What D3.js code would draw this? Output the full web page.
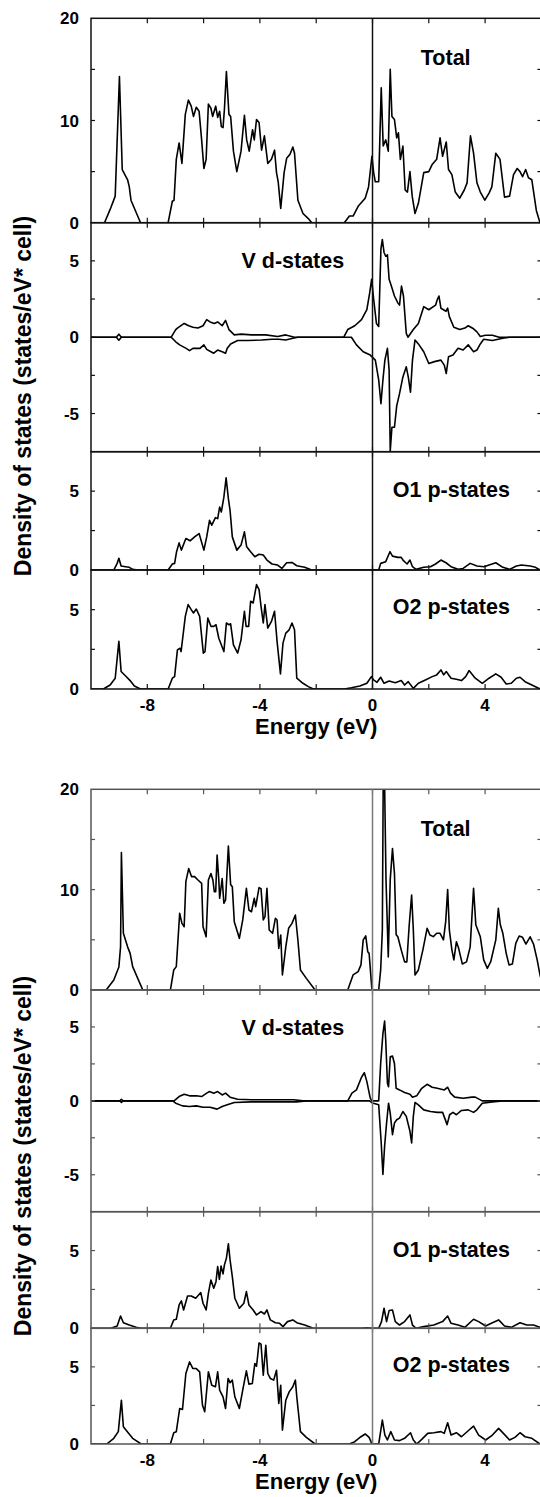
<!DOCTYPE html>
<html>
<head>
<meta charset="utf-8">
<script src="https://cdn.jsdelivr.net/npm/d3@7"></script>
<style>
  body { margin: 0; background: #fff; }
  svg { display: block; }
  text { font-family: "Liberation Sans", Arial, sans-serif; fill: #000; font-weight: bold; }
</style>
</head>
<body>
<svg id="chart" width="540" height="1497"></svg>
<script>
// energy axis
const energyLabels = [-8, -4, 0, 4]
const energyMinor = [-8, -6, -4, -2, 0, 2, 4]
const panelNames = ["Total", "V d-states", "O1 p-states", "O2 p-states"]
const panelDomains = [[0, 20], [-7.5, 7.5], [0, 7.5], [0, 7.5]]
const yLabels = [[0, 10, 20], [-5, 0, 5], [0, 5], [0, 5]]
const yMinor = [[5, 10, 15], [-5, -2.5, 0, 2.5, 5], [2.5, 5], [2.5, 5]]

// upper figure, [energy, DOS]
const total1 = [[-10,0],[-9.52,0],[-9.32,1.3],[-9.14,2.6],[-8.99,14.3],[-8.89,5.2],[-8.7,4.2],[-8.64,3.5],[-8.58,2.2],[-8.24,0],
  [-7.26,0],[-7.11,2.1],[-7.05,2.2],[-6.97,6.2],[-6.87,7.8],[-6.77,5.8],[-6.65,10.6],[-6.54,12.0],[-6.44,11.4],[-6.36,10.4],[-6.26,11.3],[-6.16,10.9],[-6.07,8.1],[-5.99,5.3],[-5.91,6.2],[-5.83,11.6],[-5.74,11.2],[-5.68,10.4],[-5.57,11.4],[-5.5,10.3],[-5.43,10.9],[-5.37,9.4],[-5.31,9.3],[-5.26,11.1],[-5.19,14.8],[-5.1,10.6],[-5.04,10.4],[-4.94,7.0],[-4.82,5.0],[-4.67,7.0],[-4.55,10.5],[-4.47,8.1],[-4.38,7.0],[-4.26,9.1],[-4.2,8.1],[-4.12,10.1],[-4.03,9.8],[-3.94,7.1],[-3.84,8.5],[-3.72,5.8],[-3.59,6.2],[-3.48,7.1],[-3.41,4.9],[-3.35,4.0],[-3.26,1.4],[-3.14,4.9],[-3.05,6.3],[-2.93,6.7],[-2.83,7.4],[-2.77,6.8],[-2.65,2.2],[-2.47,0.9],[-2.28,0.4],[-2.16,0],
  [-1.0,0],[-0.82,0.65],[-0.69,0.65],[-0.51,1.6],[-0.26,2.4],[-0.14,3.5],[-0.02,6.5],[0.04,4.9],[0.1,4.0],[0.22,4.0],[0.31,13.2],[0.38,7.5],[0.47,8.1],[0.56,7.0],[0.63,15.0],[0.69,10.4],[0.78,10.1],[0.86,8.3],[0.92,8.8],[0.99,6.2],[1.08,7.5],[1.16,3.2],[1.24,3.0],[1.33,5.0],[1.41,2.6],[1.51,0.9],[1.63,1.9],[1.82,4.9],[2.0,5.0],[2.12,5.7],[2.28,6.2],[2.4,8.3],[2.49,6.5],[2.62,7.9],[2.7,5.2],[2.82,4.7],[2.94,3.0],[3.1,2.4],[3.26,3.2],[3.36,3.9],[3.48,8.5],[3.59,6.8],[3.71,3.9],[3.83,3.0],[3.99,2.2],[4.14,2.9],[4.24,3.5],[4.38,6.8],[4.53,6.2],[4.69,2.5],[4.87,2.6],[5.01,4.7],[5.14,5.3],[5.24,5.0],[5.33,4.5],[5.44,5.2],[5.54,4.4],[5.66,4.2],[5.82,1.2],[5.95,0],[6,0]]

const vUp1 = [[-10,0],[-9.1,0],[-9.01,0.2],[-8.92,0],[-7.15,0],[-6.99,0.5],[-6.93,0.6],[-6.69,0.9],[-6.53,0.75],[-6.38,0.65],[-6.2,0.6],[-6.02,0.75],[-5.89,1.15],[-5.77,1.0],[-5.62,0.9],[-5.5,1.0],[-5.34,0.75],[-5.22,1.1],[-5.1,0.5],[-4.91,0.15],[-4.67,0.2],[-4.3,0.15],[-3.8,0.15],[-3.37,0.05],[-3.08,0.15],[-2.77,0],
  [-1.02,0],[-0.88,0.5],[-0.63,0.75],[-0.39,1.15],[-0.2,1.8],[-0.1,2.9],[-0.03,3.8],[0.04,2.5],[0.14,0.9],[0.22,0.7],[0.3,5.8],[0.35,6.4],[0.41,5.55],[0.47,5.3],[0.53,5.4],[0.59,3.8],[0.67,3.35],[0.78,2.7],[0.9,2.25],[0.96,2.1],[1.03,3.35],[1.1,2.7],[1.2,0.25],[1.26,0],[1.45,0.5],[1.63,0.9],[1.82,2.0],[2.0,1.8],[2.24,2.1],[2.3,2.45],[2.36,2.7],[2.43,1.9],[2.61,1.7],[2.67,1.9],[2.73,1.35],[2.89,0.65],[3.1,0.5],[3.28,0.6],[3.4,0.75],[3.59,0.55],[3.71,0.35],[3.83,0.05],[4.01,0.13],[4.26,0.13],[4.5,0],[6,0]]

const vDn1 = [[-10,0],[-9.1,0],[-9.01,-0.2],[-8.92,0],[-7.15,0],[-6.99,-0.3],[-6.85,-0.5],[-6.62,-0.73],[-6.5,-0.88],[-6.38,-0.73],[-6.13,-0.73],[-5.99,-0.5],[-5.89,-0.8],[-5.74,-0.95],[-5.64,-1.05],[-5.5,-0.84],[-5.34,-0.95],[-5.22,-1.05],[-5.16,-0.73],[-5.04,-0.44],[-4.79,-0.22],[-4.42,-0.22],[-3.94,-0.18],[-3.57,-0.13],[-3.33,-0.13],[-3.08,-0.18],[-2.83,-0.07],[-2.65,0],
  [-0.75,0],[-0.57,-0.5],[-0.33,-0.95],[-0.08,-1.17],[0.1,-1.5],[0.22,-2.8],[0.3,-4.36],[0.37,-2.8],[0.44,-1.5],[0.53,-0.73],[0.59,-2.16],[0.63,-7.45],[0.69,-5.9],[0.78,-5.9],[0.86,-4.5],[0.96,-3.7],[1.08,-2.6],[1.2,-1.94],[1.27,-2.6],[1.35,-3.6],[1.42,-1.5],[1.51,-0.18],[1.63,-0.44],[1.82,-0.95],[2.0,-1.72],[2.2,-1.6],[2.43,-1.5],[2.55,-1.83],[2.62,-2.38],[2.7,-1.28],[2.86,-1.17],[3.04,-0.73],[3.22,-0.84],[3.4,-0.5],[3.59,-0.95],[3.71,-0.84],[3.83,-0.44],[3.95,-0.13],[4.26,-0.22],[4.63,-0.07],[4.87,0],[6,0]]

const o1p1 = [[-10,0],[-9.19,0],[-9.07,0.42],[-9.01,0.74],[-8.93,0.25],[-8.77,0.21],[-8.64,0.17],[-8.52,0.04],[-8.34,0],[-7.26,0],[-7.11,0.38],[-7.03,0.42],[-6.96,1.16],[-6.87,1.72],[-6.79,1.26],[-6.63,2.0],[-6.48,1.85],[-6.32,2.1],[-6.16,2.31],[-5.99,1.26],[-5.89,2.1],[-5.79,3.15],[-5.71,2.84],[-5.58,3.32],[-5.5,3.26],[-5.43,3.99],[-5.37,3.68],[-5.28,4.62],[-5.2,5.84],[-5.12,4.52],[-5.06,3.78],[-4.98,2.1],[-4.82,1.26],[-4.67,1.58],[-4.55,2.42],[-4.47,1.47],[-4.33,1.16],[-4.18,0.84],[-4.03,1.0],[-3.88,0.95],[-3.75,0.63],[-3.57,0.38],[-3.38,0.32],[-3.22,0.1],[-3.05,0.46],[-2.86,0.48],[-2.69,0.27],[-2.41,0.17],[-2.16,0],
  [0.22,0],[0.29,0.42],[0.47,0.53],[0.62,1.16],[0.71,0.88],[0.9,0.8],[1.02,0.8],[1.1,0.59],[1.23,0.38],[1.33,0.63],[1.42,0.21],[1.55,0.04],[1.82,0.17],[2.06,0.21],[2.24,0.38],[2.43,0.63],[2.61,0.46],[2.79,0.21],[3.04,0.04],[3.22,0.1],[3.47,0.42],[3.71,0.25],[3.96,0.21],[4.14,0.32],[4.38,0.46],[4.63,0.17],[4.87,0.04],[5.11,0.25],[5.29,0.32],[5.6,0.25],[5.79,0.17],[5.95,0],[6,0]]

const o2p1 = [[-10,0],[-9.56,0],[-9.32,0.25],[-9.14,0.68],[-9.01,3.0],[-8.93,1.1],[-8.77,0.82],[-8.61,0.53],[-8.46,0.19],[-8.24,0],[-7.26,0],[-7.11,0.68],[-7.03,0.78],[-6.93,2.47],[-6.84,2.57],[-6.8,2.36],[-6.65,4.58],[-6.55,5.32],[-6.44,5.0],[-6.36,4.79],[-6.26,5.04],[-6.14,4.58],[-6.01,2.26],[-5.95,2.36],[-5.85,4.47],[-5.74,3.95],[-5.64,3.95],[-5.56,4.05],[-5.46,3.2],[-5.28,2.36],[-5.19,4.16],[-5.1,4.05],[-5.04,4.11],[-4.94,2.78],[-4.79,2.26],[-4.67,3.1],[-4.55,4.9],[-4.49,3.95],[-4.4,3.95],[-4.33,5.53],[-4.24,5.42],[-4.12,6.58],[-4.03,6.27],[-3.96,5.21],[-3.88,4.16],[-3.82,5.32],[-3.72,3.84],[-3.59,4.26],[-3.48,4.9],[-3.39,3.0],[-3.27,0.95],[-3.18,2.89],[-3.08,3.52],[-2.96,3.73],[-2.86,4.16],[-2.77,3.73],[-2.69,0.68],[-2.47,0.36],[-2.28,0.15],[-2.1,0],
  [-1.0,0],[-0.75,0.08],[-0.45,0.19],[-0.2,0.36],[-0.04,0.78],[0.04,0.57],[0.16,0.42],[0.29,0.74],[0.41,0.36],[0.59,0.5],[0.81,0.4],[1.02,0.53],[1.14,0.25],[1.27,0.46],[1.45,0.04],[1.63,0.36],[1.88,0.57],[2.12,0.78],[2.28,0.89],[2.43,1.2],[2.53,0.89],[2.62,1.1],[2.79,0.68],[2.98,0.61],[3.16,0.53],[3.31,0.78],[3.43,1.16],[3.65,0.68],[3.9,0.36],[4.14,0.68],[4.38,0.95],[4.57,0.74],[4.75,0.32],[4.93,0.36],[5.11,0.68],[5.24,0.74],[5.42,0.46],[5.66,0.25],[5.95,0],[6,0]]

// lower figure
const total2 = [[-10,0],[-9.46,0],[-9.19,1.0],[-9.01,2.3],[-8.95,4.3],[-8.92,13.7],[-8.85,5.65],[-8.7,4.3],[-8.61,3.65],[-8.52,2.33],[-8.16,0],[-7.18,0],[-7.06,2.0],[-6.97,2.33],[-6.85,7.64],[-6.77,6.64],[-6.69,6.3],[-6.63,10.8],[-6.53,12.1],[-6.43,11.3],[-6.32,11.3],[-6.2,10.96],[-6.07,10.63],[-6.02,6.3],[-5.91,5.3],[-5.83,10.96],[-5.74,11.6],[-5.67,10.96],[-5.62,9.8],[-5.57,9.8],[-5.52,13.45],[-5.46,10.96],[-5.43,9.14],[-5.34,11.1],[-5.28,8.64],[-5.22,8.97],[-5.12,14.35],[-5.04,10.5],[-4.98,10.3],[-4.91,6.81],[-4.73,5.15],[-4.61,6.98],[-4.48,10.13],[-4.39,7.97],[-4.3,7.8],[-4.2,9.14],[-4.15,8.3],[-4.03,10.2],[-3.96,10.1],[-3.88,6.98],[-3.82,7.3],[-3.75,10.13],[-3.67,5.98],[-3.55,5.65],[-3.45,7.14],[-3.39,6.98],[-3.33,4.15],[-3.26,5.48],[-3.2,1.5],[-3.08,4.3],[-2.98,6.15],[-2.86,6.64],[-2.74,7.47],[-2.65,4.98],[-2.56,2.0],[-2.35,1.16],[-2.04,0],
  [-0.88,0],[-0.69,1.5],[-0.51,1.83],[-0.41,2.5],[-0.33,5.0],[-0.24,5.4],[-0.17,3.82],[-0.12,3.65],[-0.02,0],[0.22,0],[0.29,2.0],[0.35,6.0],[0.38,20.5],[0.43,20.5],[0.48,10.96],[0.56,3.3],[0.63,11.0],[0.71,14.1],[0.78,11.6],[0.84,5.5],[0.9,5.3],[1.02,4.0],[1.14,2.8],[1.22,2.8],[1.3,6.3],[1.39,9.47],[1.45,6.0],[1.51,1.5],[1.63,2.0],[1.79,4.0],[1.94,6.15],[2.04,5.48],[2.16,5.32],[2.28,5.65],[2.4,5.65],[2.52,5.0],[2.6,6.81],[2.67,10.0],[2.73,6.0],[2.82,4.0],[2.89,3.0],[2.98,4.8],[3.06,4.15],[3.19,2.6],[3.34,2.8],[3.47,4.3],[3.59,10.13],[3.67,6.5],[3.83,5.3],[3.95,3.0],[4.08,2.16],[4.2,2.82],[4.38,5.0],[4.47,8.14],[4.54,6.5],[4.63,5.65],[4.75,3.65],[4.85,2.5],[4.97,2.6],[5.09,4.65],[5.21,5.38],[5.33,5.25],[5.45,4.58],[5.6,5.3],[5.72,4.58],[5.85,3.0],[5.95,1.5],[6,1.0]]

const vUp2 = [[-10,0],[-8.98,0],[-8.92,0.1],[-8.86,0],[-7.05,0],[-6.87,0.29],[-6.69,0.45],[-6.5,0.34],[-6.26,0.34],[-6.07,0.29],[-5.89,0.52],[-5.79,0.63],[-5.64,0.52],[-5.5,0.63],[-5.34,0.4],[-5.22,0.52],[-5.06,0.25],[-4.79,0.11],[-4.3,0.07],[-2.8,0.07],[-2.47,0],
  [-0.88,0],[-0.73,0.52],[-0.57,0.74],[-0.39,1.6],[-0.29,1.9],[-0.2,1.3],[-0.08,0.18],[-0.02,0],[0.22,0],[0.29,2.53],[0.37,4.55],[0.43,5.4],[0.47,4.1],[0.53,1.19],[0.57,0.96],[0.63,2.98],[0.71,3.03],[0.78,2.53],[0.84,0.85],[0.96,0.74],[1.14,0.56],[1.33,0.45],[1.42,0.25],[1.57,0.34],[1.75,0.85],[1.94,1.12],[2.12,0.92],[2.3,0.85],[2.55,0.74],[2.67,0.92],[2.77,0.52],[2.92,0.25],[3.22,0.18],[3.53,0.25],[3.65,0.25],[3.9,0],[6,0]]

const vDn2 = [[-10,0],[-8.98,0],[-8.92,-0.1],[-8.86,0],[-7.1,0],[-6.99,-0.16],[-6.75,-0.34],[-6.5,-0.38],[-6.26,-0.34],[-6.02,-0.43],[-5.77,-0.43],[-5.52,-0.56],[-5.34,-0.38],[-5.16,-0.27],[-4.91,-0.11],[-4.3,-0.07],[-2.7,-0.07],[-2.35,0],
  [-0.1,0],[0.0,-0.15],[0.22,-0.27],[0.31,-2.85],[0.37,-4.98],[0.43,-3.07],[0.5,-1.5],[0.57,-0.16],[0.63,-0.83],[0.71,-2.29],[0.78,-1.5],[0.86,-1.28],[0.96,-1.17],[1.08,-0.72],[1.2,-1.05],[1.33,-2.06],[1.39,-2.85],[1.45,-1.05],[1.51,-0.11],[1.63,-0.27],[1.82,-0.61],[2.06,-0.72],[2.3,-0.78],[2.49,-0.78],[2.65,-1.61],[2.74,-0.94],[2.86,-0.78],[2.98,-0.94],[3.16,-0.65],[3.4,-0.61],[3.59,-0.78],[3.71,-0.61],[3.9,-0.16],[4.26,-0.07],[4.63,0],[6,0]]

const o1p2 = [[-10,0],[-9.29,0],[-9.07,0.15],[-8.95,0.79],[-8.85,0.36],[-8.64,0.21],[-8.4,0.06],[-8.22,0],[-7.18,0],[-7.06,0.54],[-6.97,0.58],[-6.87,1.5],[-6.79,1.76],[-6.71,1.18],[-6.57,2.08],[-6.44,2.08],[-6.28,1.93],[-6.1,2.3],[-6.02,1.61],[-5.91,1.18],[-5.83,2.25],[-5.74,3.11],[-5.64,2.58],[-5.56,3.0],[-5.5,3.97],[-5.44,3.15],[-5.38,4.0],[-5.31,3.5],[-5.26,4.08],[-5.19,4.5],[-5.12,5.43],[-5.06,4.4],[-4.98,3.33],[-4.89,1.93],[-4.73,1.29],[-4.57,1.61],[-4.48,2.36],[-4.39,1.5],[-4.24,1.18],[-4.12,0.86],[-3.96,1.07],[-3.84,0.92],[-3.75,1.18],[-3.63,0.54],[-3.45,0.36],[-3.3,0.32],[-3.18,0.11],[-3.02,0.43],[-2.83,0.54],[-2.69,0.36],[-2.41,0.21],[-2.1,0],
  [-0.4,0],[-0.2,0.04],[0,0],[0.22,0],[0.32,0.43],[0.41,1.29],[0.5,0.43],[0.59,1.14],[0.71,1.18],[0.81,0.43],[0.96,0.21],[1.14,0.43],[1.33,0.86],[1.42,0.21],[1.55,0],[1.82,0.11],[2.18,0.21],[2.49,0.43],[2.67,0.79],[2.79,0.32],[3.04,0.21],[3.28,0.06],[3.59,0.58],[3.77,0.43],[4.02,0.15],[4.26,0.36],[4.48,0.54],[4.69,0.15],[4.93,0.06],[5.24,0.36],[5.48,0.21],[5.72,0.21],[5.95,0.06],[6,0]]

const o2p2 = [[-10,0],[-9.44,0],[-9.19,0.37],[-9.03,0.8],[-8.92,2.84],[-8.85,1.12],[-8.68,0.73],[-8.52,0.37],[-8.22,0],[-7.18,0],[-7.06,0.73],[-6.97,0.8],[-6.85,2.3],[-6.75,2.24],[-6.63,4.57],[-6.5,5.32],[-6.38,4.89],[-6.26,4.89],[-6.14,4.68],[-6.04,2.52],[-5.96,2.09],[-5.83,4.68],[-5.71,3.81],[-5.58,3.71],[-5.5,4.68],[-5.43,3.49],[-5.31,3.06],[-5.22,2.3],[-5.13,4.25],[-5.06,3.97],[-4.98,4.14],[-4.89,3.06],[-4.73,2.3],[-4.61,3.49],[-4.48,4.74],[-4.39,3.88],[-4.27,3.92],[-4.18,5.22],[-4.12,5.04],[-4.03,6.55],[-3.96,6.47],[-3.88,4.46],[-3.79,6.4],[-3.72,4.57],[-3.63,4.25],[-3.51,4.14],[-3.41,4.78],[-3.33,2.63],[-3.26,3.81],[-3.2,0.9],[-3.08,2.84],[-2.96,3.38],[-2.83,3.71],[-2.74,4.14],[-2.69,3.06],[-2.56,0.8],[-2.35,0.43],[-2.04,0],
  [-0.82,0],[-0.63,0.15],[-0.41,0.47],[-0.26,0.65],[-0.12,0.43],[-0.02,0],[0.22,0],[0.35,1.55],[0.44,0.58],[0.53,0.26],[0.65,0.8],[0.78,0.26],[0.96,0.22],[1.14,0.37],[1.35,0.73],[1.45,0.26],[1.57,0],[1.75,0.3],[1.96,0.69],[2.18,0.73],[2.43,0.8],[2.55,0.69],[2.67,1.38],[2.79,0.58],[2.98,0.73],[3.16,0.47],[3.4,0.86],[3.59,1.16],[3.77,0.58],[4.02,0.26],[4.26,0.58],[4.48,1.01],[4.65,0.69],[4.87,0.26],[5.06,0.43],[5.24,0.73],[5.42,0.47],[5.66,0.37],[5.95,0],[6,0]]

// layout of the two stacked figures
const figures = [
  { edges: [18.3, 222.7, 451.7, 570, 689], frame: "#111", fermi: "#111",
    series: [[total1], [vUp1, vDn1], [o1p1], [o2p1]], titleY: 396 },
  { edges: [789.3, 990, 1211.7, 1328.3, 1444], frame: "#555", fermi: "#7a7a7a",
    series: [[total2], [vUp2, vDn2], [o1p2], [o2p2]], titleY: 1156 }
]
const labelEnergy = [2.6, -2.83, 2.8, 2.8]
const labelDrop = [47, 45, 45, 44]

const svg = d3.select("#chart")
const x = d3.scaleLinear().domain([-10, 6]).range([91, 541.4])
const tickLen = 5

figures.forEach((fig, fi) => {
  const g = svg.append("g")

  fig.series.forEach((lines, pi) => {
    const top = fig.edges[pi]
    const bottom = fig.edges[pi + 1]
    const y = d3.scaleLinear().domain(panelDomains[pi]).range([bottom, top])
    const panel = g.append("g")

    const clipId = `clip-${fi}-${pi}`
    svg.append("clipPath").attr("id", clipId)
      .append("rect")
      .attr("x", x(-10)).attr("y", top)
      .attr("width", x(6) - x(-10)).attr("height", bottom - top)

    const line = d3.line().x(d => x(d[0])).y(d => y(d[1]))
    lines.forEach(data => {
      panel.append("path")
        .datum(data)
        .attr("clip-path", `url(#${clipId})`)
        .attr("d", line)
        .attr("fill", "none")
        .attr("stroke", "#000")
        .attr("stroke-width", 1.6)
        .attr("stroke-linejoin", "round")
    })

    // energy ticks on top and bottom, pointing in
    energyMinor.forEach(e => {
      panel.append("line")
        .attr("x1", x(e)).attr("x2", x(e))
        .attr("y1", top).attr("y2", top + tickLen)
        .attr("stroke", fig.frame).attr("stroke-width", 1.2)
      panel.append("line")
        .attr("x1", x(e)).attr("x2", x(e))
        .attr("y1", bottom).attr("y2", bottom - tickLen)
        .attr("stroke", fig.frame).attr("stroke-width", 1.2)
    })

    // DOS ticks on left and right
    yMinor[pi].forEach(v => {
      panel.append("line")
        .attr("x1", x(-10)).attr("x2", x(-10) + 4)
        .attr("y1", y(v)).attr("y2", y(v))
        .attr("stroke", fig.frame).attr("stroke-width", 1.2)
      panel.append("line")
        .attr("x1", x(6)).attr("x2", x(6) - 4)
        .attr("y1", y(v)).attr("y2", y(v))
        .attr("stroke", fig.frame).attr("stroke-width", 1.2)
    })

    yLabels[pi].forEach(v => {
      panel.append("text")
        .attr("x", 79)
        .attr("y", y(v))
        .attr("dy", "0.36em")
        .attr("text-anchor", "end")
        .style("font-size", "17px")
        .text(v)
    })

    panel.append("text")
      .attr("x", x(labelEnergy[pi]))
      .attr("y", top + labelDrop[pi])
      .attr("text-anchor", "middle")
      .style("font-size", "21.5px")
      .text(panelNames[pi])

    // panel frame
    panel.append("rect")
      .attr("x", x(-10)).attr("y", top)
      .attr("width", x(6) - x(-10)).attr("height", bottom - top)
      .attr("fill", "none")
      .attr("stroke", fig.frame)
      .attr("stroke-width", 1.5)
  })

  const figTop = fig.edges[0]
  const figBottom = fig.edges[fig.edges.length - 1]

  // Fermi level
  g.append("line")
    .attr("x1", x(0)).attr("x2", x(0))
    .attr("y1", figTop).attr("y2", figBottom)
    .attr("stroke", fig.fermi)
    .attr("stroke-width", 1.5)

  energyLabels.forEach(e => {
    g.append("text")
      .attr("x", x(e))
      .attr("y", figBottom + 21.5)
      .attr("text-anchor", "middle")
      .style("font-size", "17px")
      .text(e)
  })

  g.append("text")
    .attr("x", (x(-10) + x(6)) / 2)
    .attr("y", figBottom + 45)
    .attr("text-anchor", "middle")
    .style("font-size", "22px")
    .text("Energy (eV)")

  g.append("text")
    .attr("transform", `translate(31,${fig.titleY}) rotate(-90)`)
    .attr("text-anchor", "middle")
    .style("font-size", "23px")
    .text("Density of states (states/eV* cell)")
})
</script>
</body>
</html>
